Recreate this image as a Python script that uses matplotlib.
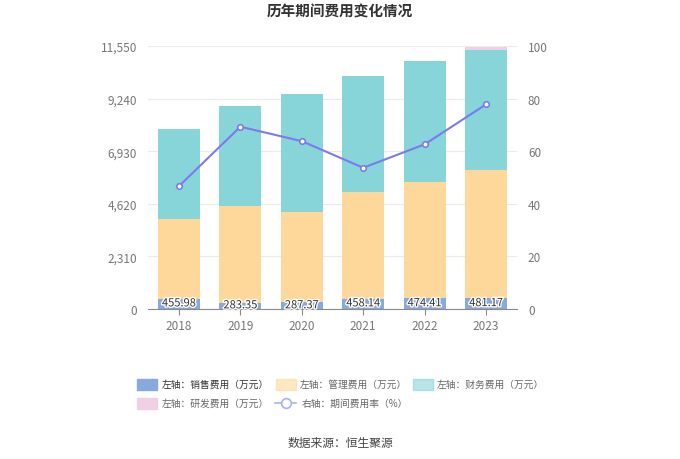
import matplotlib
matplotlib.use("Agg")
import matplotlib.pyplot as plt
import matplotlib.patheffects as pe
from matplotlib.patches import Rectangle
from matplotlib.lines import Line2D
import numpy as np

plt.rcParams['font.family'] = ['Noto Sans CJK SC', 'DejaVu Sans']

years = ['2018', '2019', '2020', '2021', '2022', '2023']
sales = [455.98, 283.35, 287.37, 458.14, 474.41, 481.17]
mgmt = [3496, 4254, 3958, 4666, 5089, 5637]
finance = [3953, 4365, 5197, 5095, 5342, 5269]
rnd = [0, 0, 0, 0, 0, 106]
rate = [46.7, 69.3, 63.8, 53.7, 62.6, 77.8]
left_ticks = [0, 2310, 4620, 6930, 9240, 11550]
right_ticks = [0, 20, 40, 60, 80, 100]

c_sales = '#88a9db'
c_mgmt = '#fed89b'
c_fin = '#87d4d9'
c_rnd = '#f0d0e4'
c_line = '#7b7bef'

fig = plt.figure(figsize=(6.8, 4.6), dpi=100)
ax = fig.add_axes([0.218, 0.326, 0.542, 0.572])
x = np.arange(len(years))
w = 0.68
s = np.array(sales); m = np.array(mgmt); f = np.array(finance); r = np.array(rnd)
ax.bar(x, s, w, color=c_sales, zorder=2)
ax.bar(x, m, w, bottom=s, color=c_mgmt, zorder=2)
ax.bar(x, f, w, bottom=s + m, color=c_fin, zorder=2)
ax.bar(x, r, w, bottom=s + m + f, color=c_rnd, zorder=2)
for xi, v in zip(x, sales):
    ax.text(xi, v / 2 + 20, f'{v:.2f}', ha='center', va='center', fontsize=8, color='#333333',
            path_effects=[pe.withStroke(linewidth=2, foreground='white')], zorder=5)

ax.set_ylim(0, 11550)
ax.set_xlim(-0.5, len(years) - 0.5)
ax.set_yticks(left_ticks)
ax.set_yticklabels([f'{t:,}' for t in left_ticks])
ax.set_xticks(x)
ax.set_xticklabels(years)
ax.grid(axis='y', color='#ebebeb', linewidth=0.8, zorder=0)
for sp in ['top', 'right', 'left']:
    ax.spines[sp].set_visible(False)
ax.spines['bottom'].set_color('#8a8a8a')
ax.tick_params(axis='y', length=0, colors='#777777', labelsize=8.5, pad=8)
ax.tick_params(axis='x', length=4, color='#8a8a8a', colors='#777777', labelsize=8.5)

ax2 = ax.twinx()
ax2.set_ylim(0, 100)
ax2.set_yticks(right_ticks)
ax2.plot(x, rate, color=c_line, linewidth=1.5, marker='o', markersize=4,
         markerfacecolor='white', markeredgecolor=c_line, markeredgewidth=1.2, zorder=6)
for sp in ['top', 'right', 'left', 'bottom']:
    ax2.spines[sp].set_visible(False)
ax2.tick_params(axis='y', length=0, colors='#777777', labelsize=8.5, pad=8)

fig.text(0.5, 1 - 12 / 460, '历年期间费用变化情况', ha='center', va='center', fontsize=10.5,
         fontweight='bold', color='#333333')
fig.text(0.5, 1 - 443 / 460, '数据来源：恒生聚源', ha='center', va='center', fontsize=8.5, color='#444444')

W, H = 680, 460
def patch(xp, yp, color):
    fig.patches.append(Rectangle((xp / W, 1 - (yp + 5.5) / H), 20 / W, 11 / H,
                                 transform=fig.transFigure, color=color, figure=fig))
def label(xp, yp, t, col='#666666'):
    fig.text(xp / W, 1 - yp / H, t, ha='left', va='center', fontsize=7, color=col)

patch(137, 385, c_sales); label(162, 385, '左轴：销售费用（万元）', '#333333')
patch(276, 385, c_mgmt + '99'); label(300, 385, '左轴：管理费用（万元）')
patch(413, 385, c_fin + '99'); label(437, 385, '左轴：财务费用（万元）')
patch(137, 404, c_rnd); label(162, 404, '左轴：研发费用（万元）')
fig.lines.append(Line2D([275 / W, 296 / W], [1 - 404 / H, 1 - 404 / H], transform=fig.transFigure,
                        color='#aab0f5', linewidth=1.2, marker=None, figure=fig))
fig.lines.append(Line2D([285.5 / W], [1 - 404 / H], transform=fig.transFigure, color='#aab0f5',
                        marker='o', markersize=7, markerfacecolor='white', markeredgewidth=1.2, figure=fig))
label(302, 404, '右轴：期间费用率（%）')

fig.savefig('out.png', dpi=100)
